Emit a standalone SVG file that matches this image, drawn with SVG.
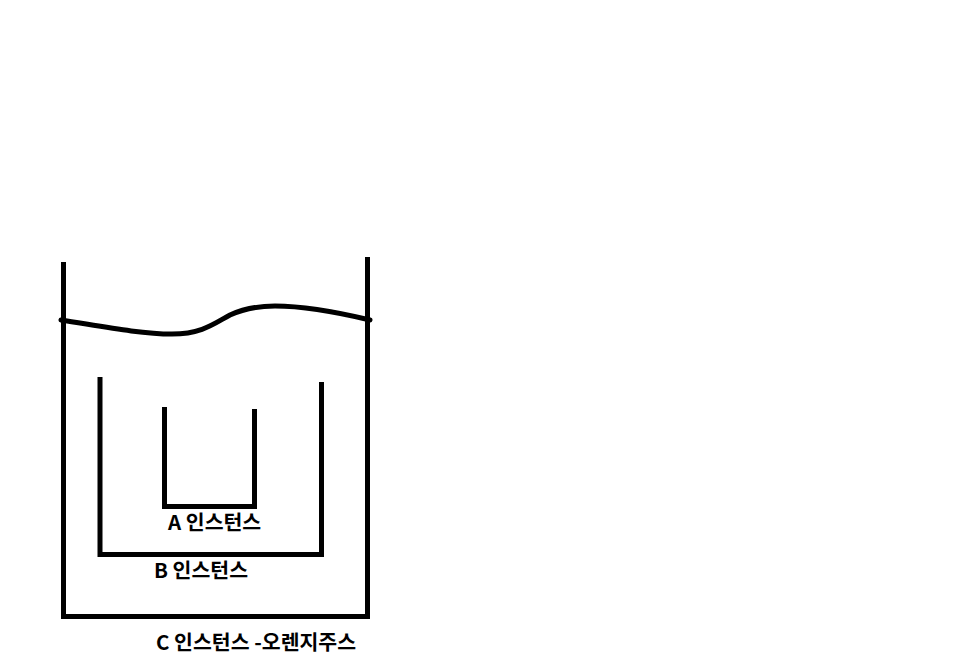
<svg xmlns="http://www.w3.org/2000/svg" width="976" height="659" viewBox="0 0 976 659">
<style>
.ln{fill:none;stroke:#000;stroke-width:5;stroke-linecap:butt;stroke-linejoin:miter}
.lbl{font-family:"Noto Sans CJK KR","Noto Sans",sans-serif;font-weight:bold;font-size:20.5px;fill:#000}
</style>
<rect width="976" height="659" fill="#fff"/>
<g id="container-c">
<path class="ln" d="M63.5,262 V616.5 H367.5 V257"/>
<path d="M61,320 C100,326 140,334 172,334 C202,334 215,323 230,315 C245,308 258,306 275,306 C310,306 345,314 370,320" fill="none" stroke="#000" stroke-width="5" stroke-linecap="round"/>
<text class="lbl" x="156" y="650">C 인스턴스 -오렌지주스</text>
</g>
<g id="container-b">
<path class="ln" d="M100,377 V554.5 H321.5 V382"/>
<text class="lbl" x="154" y="578">B 인스턴스</text>
</g>
<g id="container-a">
<path class="ln" d="M164.5,407 V506.5 H254.5 V409"/>
<text class="lbl" x="168" y="530">A 인스턴스</text>
</g>
</svg>
